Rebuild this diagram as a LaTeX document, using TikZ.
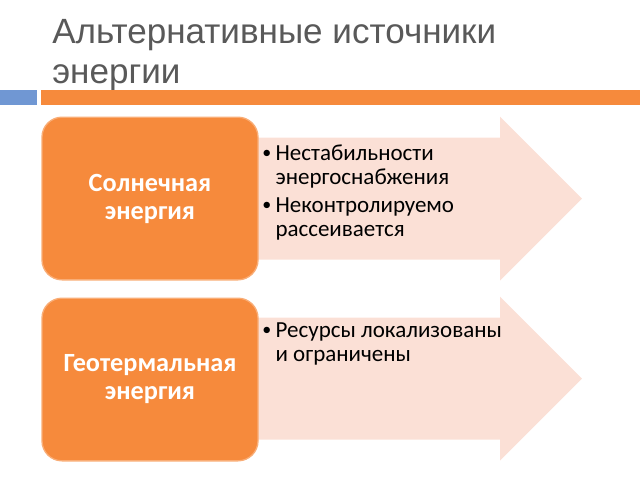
\documentclass[tikz,border=0pt]{standalone}
\usepackage{fontspec}
\setmainfont{Carlito}
\newfontfamily\titlefont{Liberation Sans}
\usepackage{xcolor}
\usetikzlibrary{positioning}
\definecolor{titlegray}{HTML}{595959}
\definecolor{accentorange}{HTML}{F68A3C}
\definecolor{accentblue}{HTML}{7097D3}
\definecolor{arrowpink}{HTML}{FBE0D6}
\newcommand{\punkt}[1]{\makebox[10pt][l]{\raisebox{1pt}{\fontsize{13.5}{13.5}\selectfont\textbullet}}\parbox[t]{200pt}{\raggedright #1}}

\begin{document}
\begin{tikzpicture}[x=0.75pt, y=-0.75pt,
    energybox/.style={draw=accentorange!70!white, line width=1pt, fill=accentorange, rounded corners=15pt,
        minimum width=162pt, minimum height=122pt, align=center, text=white,
        font=\fontsize{19.7}{21}\selectfont\bfseries},
    bulletlist/.style={anchor=base west, inner sep=0pt, font=\fontsize{17.25}{18}\selectfont}]
        \useasboundingbox (0,0) rectangle (640,480);

        % title and rule
        \node[anchor=base west, inner sep=0pt, text=titlegray, font=\titlefont\fontsize{26.3}{30.5}\selectfont] (title) at (52,43)
            {\parbox[t]{440pt}{Альтернативные источники\\энергии}};
        \fill[accentblue] (0,90) rectangle (37,105);
        \fill[accentorange] (41,90) rectangle (640,105);

        % arrows behind the boxes
        \foreach \cy in {198.5,378.5}
            \fill[arrowpink] (240,\cy-61) -- (500,\cy-61) -- (500,\cy-82) -- (582,\cy) -- (500,\cy+82) -- (500,\cy+61) -- (240,\cy+61) -- cycle;

        \node[energybox] (solar) at (150,198.5) {Солнечная\\энергия};
        \node[energybox, below=12.75pt of solar] (geo) {Геотермальная\\энергия};

        \node[bulletlist] (unstable) at (262,160) {\punkt{Нестабильности\\энергоснабжения}};
        \node[bulletlist] (diffuse) at (262,212) {\punkt{Неконтролируемо\\рассеивается}};
        \node[bulletlist] (limited) at (262,337) {\punkt{Ресурсы локализованы\\и ограничены}};
    \end{tikzpicture}
\end{document}
